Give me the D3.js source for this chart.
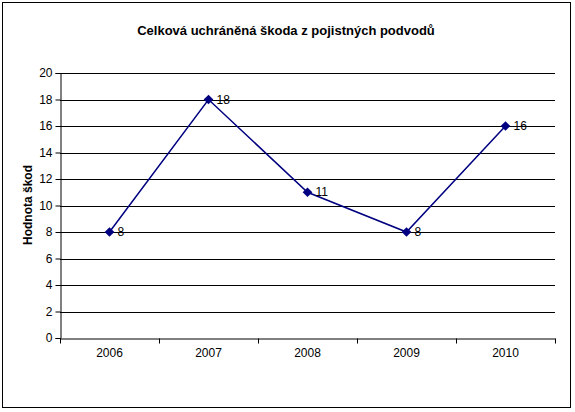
<!DOCTYPE html>
<html>
<head>
<meta charset="utf-8">
<script src="https://cdn.jsdelivr.net/npm/d3@7"></script>
<style>body{margin:0;background:#fff;font-family:Arial,"Liberation Sans",sans-serif}</style>
</head>
<body>
<div id="chart"></div>
<script>
var years = ["2006", "2007", "2008", "2009", "2010"]
var values = [8, 18, 11, 8, 16]
var yTicks = [0, 2, 4, 6, 8, 10, 12, 14, 16, 18, 20]

var svg = d3.select("#chart").append("svg")
  .attr("width", 575).attr("height", 412)

svg.append("rect")
  .attr("x", 2.5).attr("y", 2.5).attr("width", 568).attr("height", 405)
  .style("fill", "#fff").style("stroke", "#000").style("stroke-width", 1)

var margin = {top: 73, left: 60, right: 555, bottom: 338}

var x = d3.scaleBand().domain(years).range([margin.left, margin.right])
var y = d3.scaleLinear().domain([0, 20]).range([margin.bottom, margin.top])

// grid
svg.append("g").selectAll("line").data(yTicks.slice(1)).enter().append("line")
  .attr("x1", margin.left).attr("x2", margin.right)
  .attr("y1", function(d) { return Math.round(y(d)) + 0.5 })
  .attr("y2", function(d) { return Math.round(y(d)) + 0.5 })
  .style("stroke", "#000").style("stroke-width", 1)

var yAxis = svg.append("g")
  .attr("transform", "translate(" + (margin.left + 0.5) + ",0)")
  .call(d3.axisLeft(y).tickValues(yTicks).tickSize(5).tickPadding(3))
yAxis.selectAll("text").style("font-size", "12px").style("font-family", "Arial,'Liberation Sans',sans-serif")

var xAxis = svg.append("g")
  .attr("transform", "translate(0," + (margin.bottom + 0.5) + ")")
  .call(d3.axisBottom(x).tickSize(0).tickPadding(10).tickSizeOuter(0))
xAxis.selectAll("text").style("font-size", "12px").style("font-family", "Arial,'Liberation Sans',sans-serif")
xAxis.selectAll("line.sep").data(d3.range(years.length + 1)).enter().append("line")
  .attr("class", "sep")
  .attr("x1", function(i) { return Math.round(margin.left + i * x.step()) + 0.5 })
  .attr("x2", function(i) { return Math.round(margin.left + i * x.step()) + 0.5 })
  .attr("y1", 0).attr("y2", 5).style("stroke", "#000")
svg.selectAll(".domain").style("stroke", "#000")

var line = d3.line()
  .x(function(d, i) { return x(years[i]) + x.bandwidth() / 2 })
  .y(function(d) { return y(d) })

svg.append("path").datum(values)
  .attr("d", line)
  .style("fill", "none").style("stroke", "#000080").style("stroke-width", 1.5)

svg.selectAll("dia").data(values).enter().append("path")
  .attr("d", d3.symbol().type(d3.symbolDiamond2).size(60))
  .attr("transform", function(d, i) { return "translate(" + (x(years[i]) + x.bandwidth() / 2) + "," + y(d) + ")" })
  .style("fill", "#000080")

svg.selectAll("lbl").data(values).enter().append("text")
  .attr("x", function(d, i) { return x(years[i]) + x.bandwidth() / 2 + 8 })
  .attr("y", function(d) { return y(d) + 4 })
  .text(function(d) { return d })
  .style("font-size", "12px")

svg.append("text")
  .attr("x", 286).attr("y", 35).attr("text-anchor", "middle")
  .style("font-size", "13px").style("font-weight", "bold")
  .text("Celková uchráněná škoda z pojistných podvodů")

svg.append("text")
  .attr("transform", "translate(32,205) rotate(-90)")
  .attr("text-anchor", "middle")
  .style("font-size", "12px").style("font-weight", "bold")
  .text("Hodnota škod")
</script>
</body>
</html>
